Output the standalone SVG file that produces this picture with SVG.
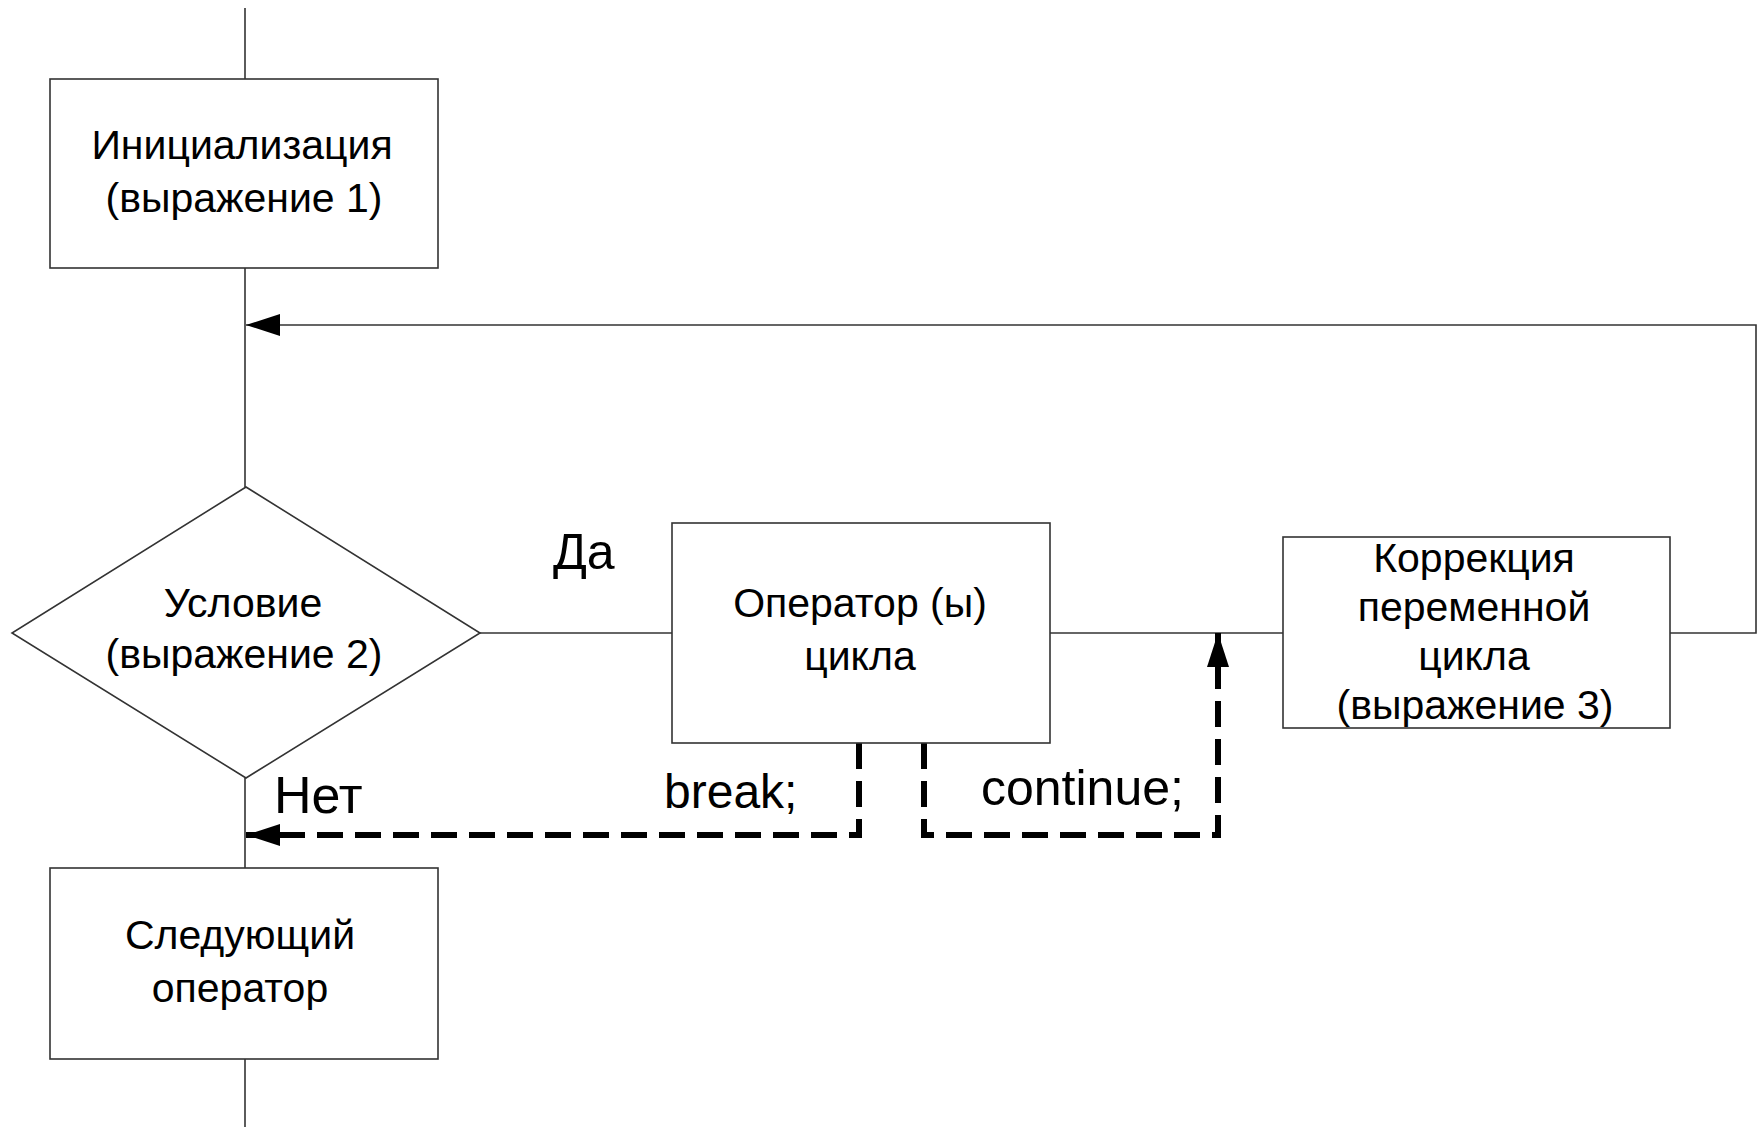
<svg xmlns="http://www.w3.org/2000/svg" width="1764" height="1127" viewBox="0 0 1764 1127">
  <style>
    .box { fill: #ffffff; stroke: #333333; stroke-width: 1.6; }
    .line { fill: none; stroke: #333333; stroke-width: 1.6; }
    .dash { fill: none; stroke: #000000; stroke-width: 6; stroke-dasharray: 26 12; }
    .txt { font-family: "Liberation Sans", Arial, sans-serif; font-size: 41px; fill: #000000; text-anchor: middle; }
    .lbl { font-family: "Liberation Sans", Arial, sans-serif; font-size: 50px; fill: #000000; }
  </style>
  <defs>
    <marker id="arrow" viewBox="0 0 34 22" refX="34" refY="11" markerWidth="34" markerHeight="22" markerUnits="userSpaceOnUse" orient="auto">
      <path d="M0,0 L34,11 L0,22 Z" fill="#000000"/>
    </marker>
  </defs>
  <rect width="1764" height="1127" fill="#ffffff"/>

  <!-- flow lines -->
  <g id="connectors">
    <line class="line" x1="245" y1="8" x2="245" y2="79"/>
    <line class="line" x1="245" y1="268" x2="245" y2="487"/>
    <line class="line" x1="245" y1="778" x2="245" y2="868"/>
    <line class="line" x1="245" y1="1059" x2="245" y2="1127"/>
    <line class="line" x1="480" y1="633" x2="672" y2="633"/>
    <line class="line" x1="1050" y1="633" x2="1283" y2="633"/>
    <!-- return loop from the correction block back to the condition -->
    <path class="line" d="M1670,633 H1756 V325 H246" marker-end="url(#arrow)"/>
    <!-- break: jump out of the loop -->
    <path class="dash" d="M859,743 V835 H246" marker-end="url(#arrow)"/>
    <!-- continue: jump to the correction step -->
    <path class="dash" d="M924,743 V835 H1218 V633" marker-end="url(#arrow)"/>
  </g>

  <g id="init">
    <rect class="box" x="50" y="79" width="388" height="189"/>
    <text class="txt" x="242" y="159">Инициализация</text>
    <text class="txt" x="244" y="212">(выражение 1)</text>
  </g>

  <g id="condition">
    <polygon class="box" points="246,487 480,633 246,778 12,633"/>
    <text class="txt" x="243" y="617">Условие</text>
    <text class="txt" x="244" y="668">(выражение 2)</text>
  </g>

  <g id="body">
    <rect class="box" x="672" y="523" width="378" height="220"/>
    <text class="txt" x="860" y="617">Оператор (ы)</text>
    <text class="txt" x="860" y="670">цикла</text>
  </g>

  <g id="step">
    <rect class="box" x="1283" y="537" width="387" height="191"/>
    <text class="txt" x="1474" y="572">Коррекция</text>
    <text class="txt" x="1474" y="621">переменной</text>
    <text class="txt" x="1474" y="670">цикла</text>
    <text class="txt" x="1475" y="719">(выражение 3)</text>
  </g>

  <g id="next">
    <rect class="box" x="50" y="868" width="388" height="191"/>
    <text class="txt" x="240" y="949">Следующий</text>
    <text class="txt" x="240" y="1002">оператор</text>
  </g>

  <g id="labels">
    <text class="lbl" x="553" y="569">Да</text>
    <text class="lbl" x="274" y="813" style="font-size:52px">Нет</text>
    <text class="lbl" x="664" y="808" style="font-size:48px">break;</text>
    <text class="lbl" x="981" y="805">continue;</text>
  </g>
</svg>
